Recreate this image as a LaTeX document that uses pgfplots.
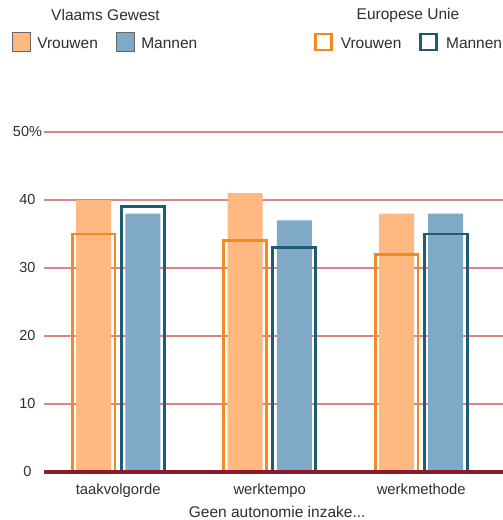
\documentclass[border=0pt]{standalone}
\usepackage{pgfplots}
\pgfplotsset{compat=1.18}
\usepackage{pgfplotstable}
\usepackage{fontspec}
\setmainfont{Liberation Sans}
\definecolor{vgV}{HTML}{FFB980}
\definecolor{vgM}{HTML}{7FA9C6}
\definecolor{euV}{HTML}{F5891F}
\definecolor{euM}{HTML}{1E5C75}
\definecolor{gridred}{HTML}{DB8585}
\definecolor{axisred}{HTML}{8C1A2C}
\definecolor{txt}{HTML}{2E2E2E}

\pgfplotstableread{
x vgV vgM euV euM
0 40 38 35 39
1 41 37 34 33
2 38 38 32 35
}\data

\pgfplotsset{
  common/.style={
    scale only axis, width=459bp, height=340bp,
    xmin=-0.49, xmax=2.54, ymin=0, ymax=50,
    at={(0,0)}, anchor=south west,
    font=\fontsize{15.5bp}{18bp}\selectfont,
    /pgf/number format/assume math mode=true,
    legend columns=2,
    legend cell align=left,
    legend style={draw=none, fill=none, inner sep=0pt, text=txt,
      font=\fontsize{15.5bp}{18bp}\selectfont,
      nodes={inner sep=0pt},
      /tikz/every even column/.append style={column sep=18bp}},
  }
}

\begin{document}
\begin{tikzpicture}
\path[use as bounding box] (-44bp,-48bp) rectangle (459bp,472bp);
\begin{axis}[common,
  axis line style={draw=none}, tick style={draw=none},
  xtick=\empty,
  ytick={0,10,20,30,40,50},
  yticklabels={0,10,20,30,40,50\%},
  yticklabel style={anchor=center, xshift=-16.5bp, text=txt, font=\fontsize{14.5bp}{17bp}\selectfont},
  ymajorgrids, grid style={gridred, line width=1.3bp},
  legend style={at={(axis description cs:-0.0704,1.265)}, anchor=west},
]
\addplot[ybar, bar width=0.231, bar shift=-0.162, fill=vgV, draw=none,
  legend image code/.code={\draw[fill=vgV, draw=black!60, line width=0.8bp] (0bp,-7bp) rectangle (18bp,11bp); \path (25bp,0bp);}]
  table[x=x, y=vgV]{\data};
\addlegendentry{Vrouwen}
\addplot[ybar, bar width=0.231, bar shift=0.162, fill=vgM, draw=none,
  legend image code/.code={\draw[fill=vgM, draw=black!60, line width=0.8bp] (0bp,-7bp) rectangle (18bp,11bp); \path (25bp,0bp);}]
  table[x=x, y=vgM]{\data};
\addlegendentry{Mannen}
\end{axis}
\begin{axis}[common,
  axis on top,
  axis y line=none, axis x line*=bottom,
  x axis line style={draw=axisred, line width=3bp},
  tick style={draw=none},
  ytick=\empty,
  xtick={0,1,2},
  xticklabels={taakvolgorde,werktempo,werkmethode},
  xticklabel style={anchor=base, yshift=-22bp, text=txt, font=\fontsize{14.8bp}{17bp}\selectfont},
  xlabel={Geen autonomie inzake...},
  xlabel style={at={(axis description cs:0.508,0)}, anchor=base, yshift=-45bp, text=txt},
  legend style={at={(axis description cs:0.588,1.265)}, anchor=west},
]
\addplot[ybar, bar width=0.282, bar shift=-0.162, fill=none, draw=euV, line width=2.8bp,
  legend image code/.code={\draw[draw=euV, fill=white, line width=2.6bp] (1bp,-6bp) rectangle (17bp,10bp); \path (25bp,0bp);}]
  table[x=x, y=euV]{\data};
\addlegendentry{Vrouwen}
\addplot[ybar, bar width=0.282, bar shift=0.162, fill=none, draw=euM, line width=2.8bp,
  legend image code/.code={\draw[draw=euM, fill=white, line width=2.6bp] (1bp,-6bp) rectangle (17bp,10bp); \path (25bp,0bp);}]
  table[x=x, y=euM]{\data};
\addlegendentry{Mannen}
\end{axis}
\node[text=txt, font=\fontsize{15.5bp}{18bp}\selectfont] at (61.5bp,456.7bp) {Vlaams Gewest};
\node[text=txt, font=\fontsize{15.5bp}{18bp}\selectfont] at (364bp,456.7bp) {Europese Unie};
\end{tikzpicture}
\end{document}
